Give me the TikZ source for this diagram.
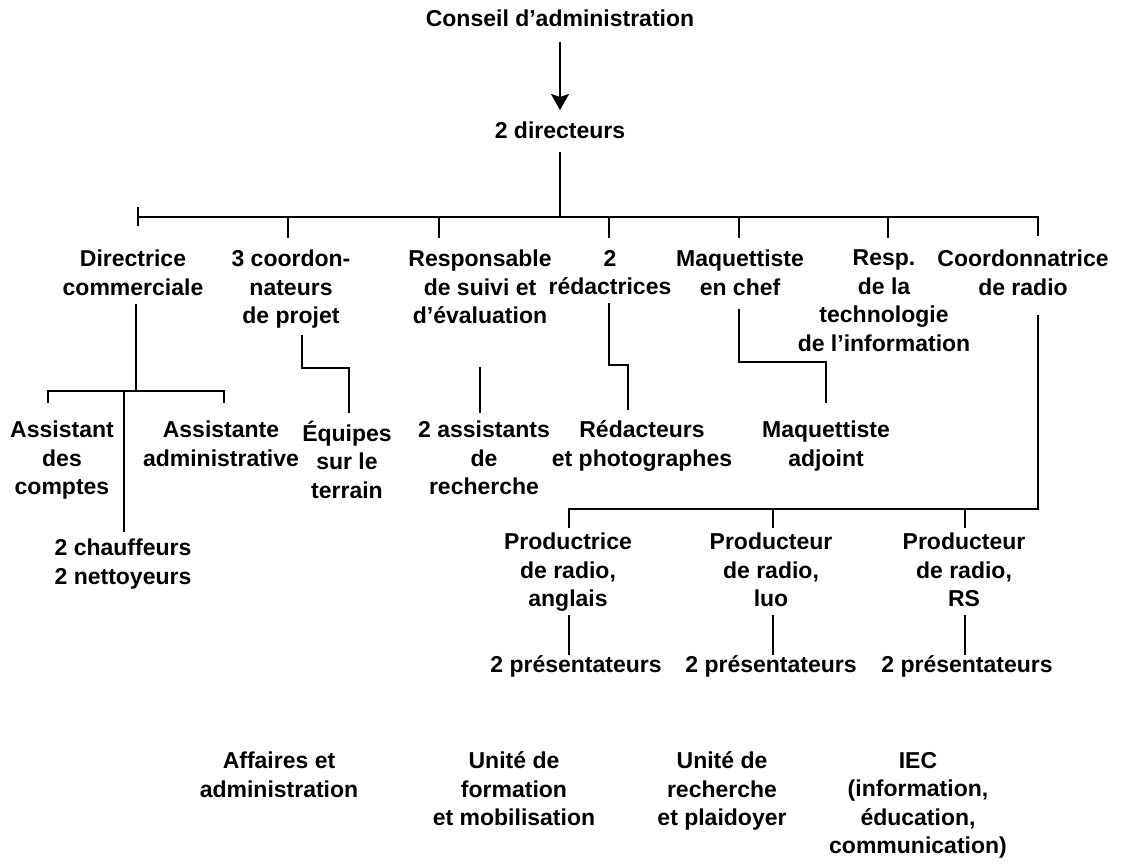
\documentclass[tikz,border=0pt]{standalone}
\usepackage{fontspec}
\setmainfont{Liberation Sans}
\usetikzlibrary{arrows.meta}
\newcommand\orgfont{\fontsize{23}{28.5}\selectfont\bfseries}

\begin{document}
\begin{tikzpicture}[x=1pt,y=-1pt,
  lbl/.style={font=\orgfont, align=center, inner sep=0pt, outer sep=0pt,
              anchor=north, execute at begin node=\strut},
  link/.style={line width=2.2pt, line cap=butt, line join=miter}]

\fill[white] (0,0) rectangle (1123,866);
\useasboundingbox (0,0) rectangle (1123,866);

% ---- top of the hierarchy
\node[lbl] (conseil) at (560,7)   {Conseil d’administration};
\node[lbl] (dir2)    at (560,119) {2 directeurs};

% ---- first level
\node[lbl] (r1a) at (133,250) {Directrice\\commerciale};
\node[lbl] (r1b) at (291,250) {3 coordon-\\nateurs\\de projet};
\node[lbl] (r1c) at (480,250) {Responsable\\de suivi et\\d’évaluation};
\node[lbl] (r1d) at (610,250) {2\\rédactrices};
\node[lbl] (r1e) at (740,250) {Maquettiste\\en chef};
\node[lbl] (r1f) at (884,250) {Resp.\\de la\\technologie\\de l’information};
\node[lbl] (r1g) at (1023,250) {Coordonnatrice\\de radio};

% ---- second level
\node[lbl] (r2a) at (62,421)  {Assistant\\des\\comptes};
\node[lbl] (r2b) at (221,421) {Assistante\\administrative};
\node[lbl] (r2c) at (347,421) {Équipes\\sur le\\terrain};
\node[lbl] (r2d) at (484,421) {2 assistants\\de\\recherche};
\node[lbl] (r2e) at (642,421) {Rédacteurs\\et photographes};
\node[lbl] (r2f) at (826,421) {Maquettiste\\adjoint};
\node[lbl] (chauff) at (123,539) {2 chauffeurs\\2 nettoyeurs};

% ---- radio producers and presenters
\node[lbl] (r3a) at (568,533) {Productrice\\de radio,\\anglais};
\node[lbl] (r3b) at (771,533) {Producteur\\de radio,\\luo};
\node[lbl] (r3c) at (964,533) {Producteur\\de radio,\\RS};
\node[lbl] (p1) at (576,653) {2 présentateurs};
\node[lbl] (p2) at (771,653) {2 présentateurs};
\node[lbl] (p3) at (967,653) {2 présentateurs};

% ---- unit captions
\node[lbl] (u1) at (279,752) {Affaires et\\administration};
\node[lbl] (u2) at (514,752) {Unité de\\formation\\et mobilisation};
\node[lbl] (u3) at (722,752) {Unité de\\recherche\\et plaidoyer};
\node[lbl] (u4) at (918,752) {IEC\\(information,\\éducation,\\communication)};

% ---- junction points
\coordinate (jL) at (138,217);
\coordinate (jB) at (288,217);
\coordinate (jC) at (439,217);
\coordinate (jD) at (609,217);
\coordinate (jE) at (739,217);
\coordinate (jF) at (888,217);
\coordinate (jR) at (1038,217);

\coordinate (dA) at (136,391);
\coordinate (dL) at (48,391);
\coordinate (dM) at (124,391);
\coordinate (dR) at (224,391);

\coordinate (cB1) at (302,368);
\coordinate (cB2) at (349,368);
\coordinate (cC)  at (480,367);
\coordinate (cD1) at (609,365);
\coordinate (cD2) at (628,365);
\coordinate (cE1) at (739,362);
\coordinate (cE2) at (826,362);

\coordinate (cR) at (1038,509);
\coordinate (pL) at (569,509);
\coordinate (pM) at (773,509);
\coordinate (pR) at (965,509);

% ---- connectors
\draw[link, -{Stealth[length=16pt, width=18pt, inset=3pt]},
      shorten <=6.5pt, shorten >=9pt] (conseil.south) -- (dir2.north);
\draw[link, shorten <=4.5pt] (dir2.south) -- (dir2.south |- jL);

\draw[link] ([yshift=9.5pt]jL) -- ([yshift=-9.5pt]jL);
\draw[link] (jL) -- (jR) -- ([yshift=-19pt]jR);
\foreach \j in {jB,jC,jD,jE,jF}
  \draw[link] (\j) -- ([yshift=-21pt]\j);

% business and administration
\draw[link] (r1a.south -| dA) -- (dA);
\draw[link] ([yshift=-12pt]dL) -- (dL) -- (dR) -- ([yshift=-12pt]dR);
\draw[link, shorten >=7pt] (dM) -- (chauff.north -| dM);

% project coordinators
\draw[link, shorten <=2.5pt, shorten >=8pt]
  (r1b.south -| cB1) -- (cB1) -- (cB2) -- (r2c.north -| cB2);
% monitoring and evaluation
\draw[link, shorten >=8pt] (cC) -- (r2d.north -| cC);
% writers
\draw[link, shorten >=11pt]
  (r1d.south -| cD1) -- (cD1) -- (cD2) -- (r2e.north -| cD2);
% layout
\draw[link, shorten <=5pt, shorten >=18pt]
  (r1e.south -| cE1) -- (cE1) -- (cE2) -- (r2f.north -| cE2);

% radio
\draw[link, shorten <=11pt] (r1g.south -| cR) -- (cR) -- (pL) -- ([yshift=-19pt]pL);
\draw[link] (pM) -- ([yshift=-19pt]pM);
\draw[link] (pR) -- ([yshift=-19pt]pR);
\draw[link, shorten >=-2pt] (r3a.south -| pL) -- (p1.north -| pL);
\draw[link, shorten >=-2pt] (r3b.south -| pM) -- (p2.north -| pM);
\draw[link, shorten >=-2pt] (r3c.south -| pR) -- (p3.north -| pR);

\end{tikzpicture}
\end{document}
